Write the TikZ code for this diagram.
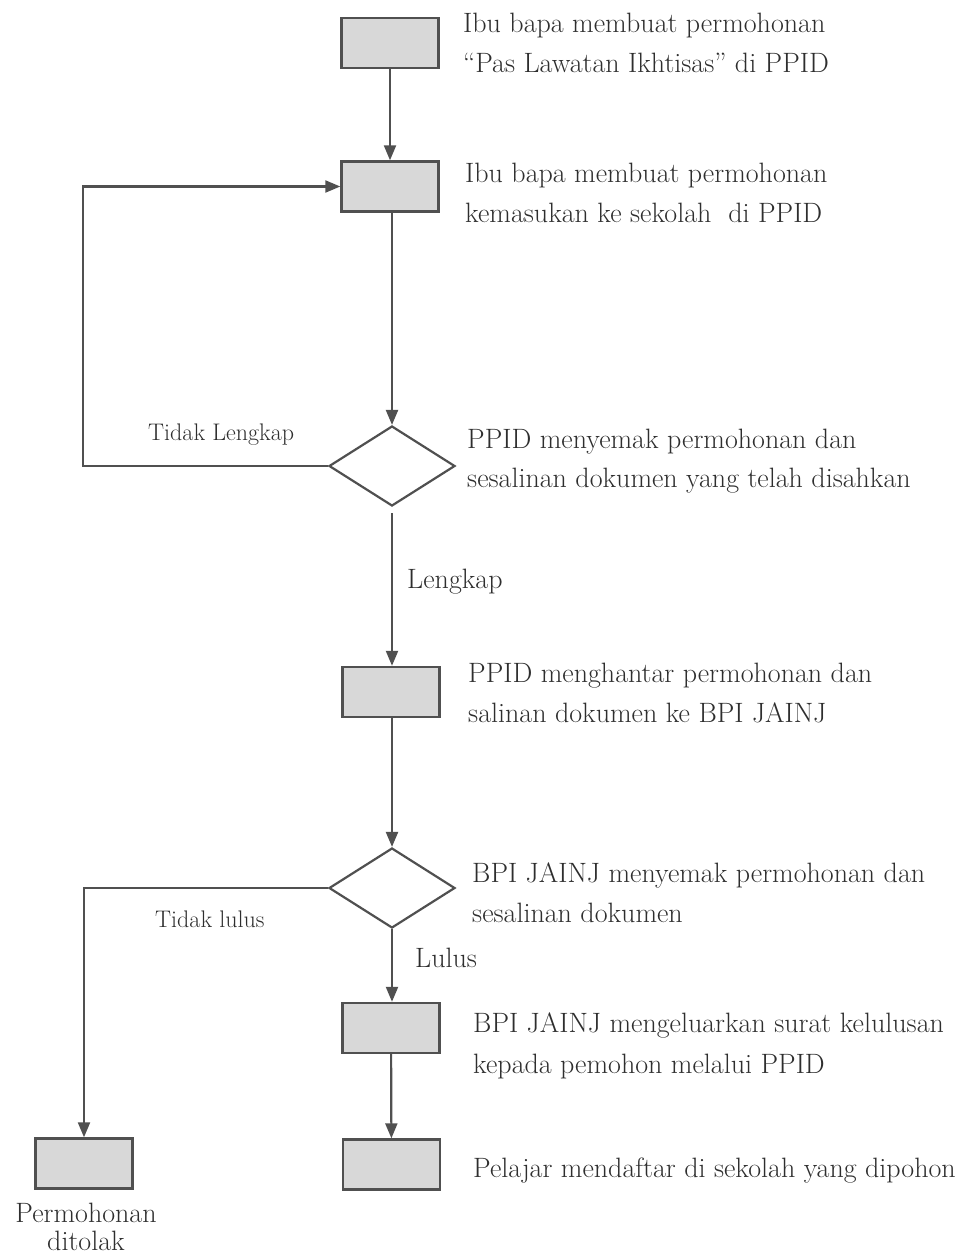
\documentclass[tikz,border=0pt]{standalone}
\usetikzlibrary{arrows.meta,shapes.geometric}
\definecolor{ink}{HTML}{2E2E2E}
\definecolor{edge}{HTML}{505050}
\definecolor{boxfill}{HTML}{D8D8D8}
\begin{document}
\begin{tikzpicture}[x=1pt,y=-1pt,
  procbox/.style={draw=edge,fill=boxfill,line width=2.4pt,minimum width=97pt,minimum height=50pt,inner sep=0pt},
  decision/.style={draw=edge,fill=white,diamond,line width=2.2pt,minimum width=126pt,minimum height=80pt,inner sep=0pt,aspect=1.575},
  desc/.style={anchor=base west,inner sep=0pt,text=ink,font=\fontsize{28}{33}\selectfont},
  lbl/.style={anchor=base west,inner sep=0pt,text=ink,font=\fontsize{24}{29}\selectfont},
  flow/.style={draw=edge,line width=2.2pt,-{Triangle[length=15pt,width=12pt]}},
  plain/.style={draw=edge,line width=2.2pt}]
\useasboundingbox (0,0) rectangle (966,1256);

% process boxes and decisions
\node[procbox] (b1) at (390,43) {};
\node[procbox] (b2) at (390,186.5) {};
\node[decision] (d1) at (392,466) {};
\node[procbox] (b3) at (391,692) {};
\node[decision] (d2) at (392,888) {};
\node[procbox] (b4) at (391,1028) {};
\node[procbox] (b5) at (391.5,1164.5) {};
\node[procbox] (b6) at (84,1163.5) {};

% descriptions
\node[desc] (t1a) at (463,32) {Ibu bapa membuat permohonan};
\node[desc] (t1b) at (463,72) {``Pas Lawatan Ikhtisas'' di PPID};
\node[desc] (t2a) at (465,182) {Ibu bapa membuat permohonan};
\node[desc] (t2b) at (465,222) {kemasukan ke sekolah\ \ di PPID};
\node[desc] (t3a) at (467,448) {PPID menyemak permohonan dan};
\node[desc] (t3b) at (467,487) {sesalinan dokumen yang telah disahkan};
\node[desc] (t4a) at (468,682) {PPID menghantar permohonan dan};
\node[desc] (t4b) at (468,722) {salinan dokumen ke BPI JAINJ};
\node[desc] (t5a) at (472,882) {BPI JAINJ menyemak permohonan dan};
\node[desc] (t5b) at (472,922) {sesalinan dokumen};
\node[desc] (t6a) at (473,1032) {BPI JAINJ mengeluarkan surat kelulusan};
\node[desc] (t6b) at (473,1073) {kepada pemohon melalui PPID};
\node[desc] (t7) at (473,1177) {Pelajar mendaftar di sekolah yang dipohon};
\node[desc,anchor=base] (t8a) at (86,1222) {Permohonan};
\node[desc,anchor=base] (t8b) at (86,1250) {ditolak};

% branch labels
\node[lbl] (l1) at (148,440) {Tidak Lengkap};
\node[desc] (l2) at (407,588) {Lengkap};
\node[lbl] (l3) at (155,927) {Tidak lulus};
\node[desc] (l4) at (415,967) {Lulus};

% connectors
\coordinate (loopx) at (83,0);
\draw[flow] (b1) -- (b2);
\draw[flow] (b2.south -| d1.north) -- (d1.north);
\draw[flow] (d1.west) -- (d1.west -| loopx) |- (b2.west);
\draw[flow,shorten <=6pt] (d1.south) -- (b3.north -| d1.south);
\draw[flow] (b3.south -| d2.north) -- (d2.north);
\draw[flow] (d2.west) -| (b6.north);
\draw[flow] (d2.south) -- (b4.north -| d2.south);
\draw[flow] (b4) -- (b5);
\end{tikzpicture}
\end{document}
